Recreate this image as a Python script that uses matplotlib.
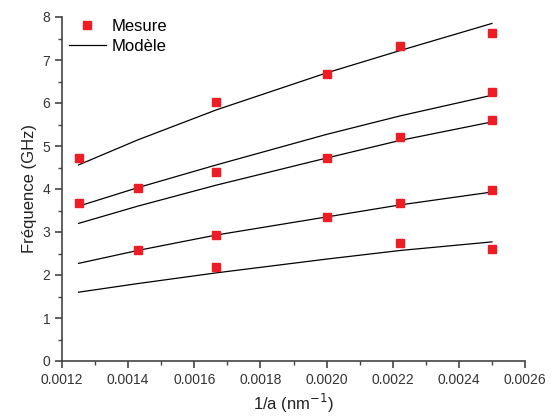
import matplotlib
matplotlib.use('Agg')
import matplotlib.pyplot as plt
from matplotlib.ticker import MultipleLocator, AutoMinorLocator

plt.rcParams['font.family'] = ['Liberation Sans', 'DejaVu Sans']

# 1/a values (nm^-1) for the measurements
inv_a = [1 / 800, 1 / 700, 1 / 600, 1 / 500, 1 / 450, 1 / 400]

# measured points (x, GHz)
mes_x = [1 / 800, 1 / 800,
         1 / 700, 1 / 700,
         1 / 600, 1 / 600, 1 / 600, 1 / 600,
         1 / 500, 1 / 500, 1 / 500,
         1 / 450, 1 / 450, 1 / 450, 1 / 450,
         1 / 400, 1 / 400, 1 / 400, 1 / 400, 1 / 400]
mes_y = [4.72, 3.67,
         4.03, 2.58,
         6.02, 4.40, 2.93, 2.19,
         6.68, 4.72, 3.36,
         7.32, 5.21, 3.68, 2.75,
         7.63, 6.26, 5.61, 3.98, 2.60]

# model curves
mode1 = [4.56, 5.14, 5.84, 6.70, 7.22, 7.85]
mode2 = [3.60, 4.03, 4.56, 5.27, 5.70, 6.18]
mode3 = [3.20, 3.60, 4.09, 4.72, 5.13, 5.56]
mode4 = [2.27, 2.57, 2.93, 3.35, 3.63, 3.93]
mode5 = [1.60, 1.80, 2.05, 2.37, 2.57, 2.77]

fig = plt.figure(figsize=(5.55, 4.17), dpi=100)
ax = fig.add_axes([62 / 555, 1 - 361 / 417, (525 - 62) / 555, (361 - 17) / 417])

first = True
for m in [mode1, mode2, mode3, mode4, mode5]:
    ax.plot(inv_a, m, color='black', lw=0.9, label='Modèle' if first else None)
    first = False
ax.plot(mes_x, mes_y, 's', color='#ee1c25', ms=6, mec='#ee1c25', label='Mesure',
        linestyle='none')

ax.set_xlim(0.0012, 0.0026)
ax.set_ylim(0, 8)
ax.xaxis.set_major_locator(MultipleLocator(0.0002))
ax.xaxis.set_minor_locator(AutoMinorLocator(2))
ax.yaxis.set_major_locator(MultipleLocator(1))
ax.yaxis.set_minor_locator(AutoMinorLocator(2))
ax.xaxis.set_major_formatter(matplotlib.ticker.FormatStrFormatter('%.4f'))

for s in ['top', 'right']:
    ax.spines[s].set_visible(False)
for s in ['left', 'bottom']:
    ax.spines[s].set_color('#444444')
    ax.spines[s].set_linewidth(1.2)
ax.tick_params(which='both', direction='out', color='#444444', labelcolor='#333333',
               labelsize=10)
ax.tick_params(which='major', length=5, width=1.2)
ax.tick_params(which='minor', length=3, width=1.0)

ax.set_xlabel('1/a (nm$^{-1}$)', fontsize=12, color='#222222')
ax.set_ylabel('Fréquence (GHz)', fontsize=12, color='#222222')

handles, labels = ax.get_legend_handles_labels()
ax.legend(handles[::-1], labels[::-1], loc='upper left', frameon=False, fontsize=12,
          bbox_to_anchor=(0.015, 0.995), borderpad=0, borderaxespad=0,
          handlelength=2.2, handletextpad=0.35, labelspacing=0.3)

fig.savefig('out.png', dpi=100)
